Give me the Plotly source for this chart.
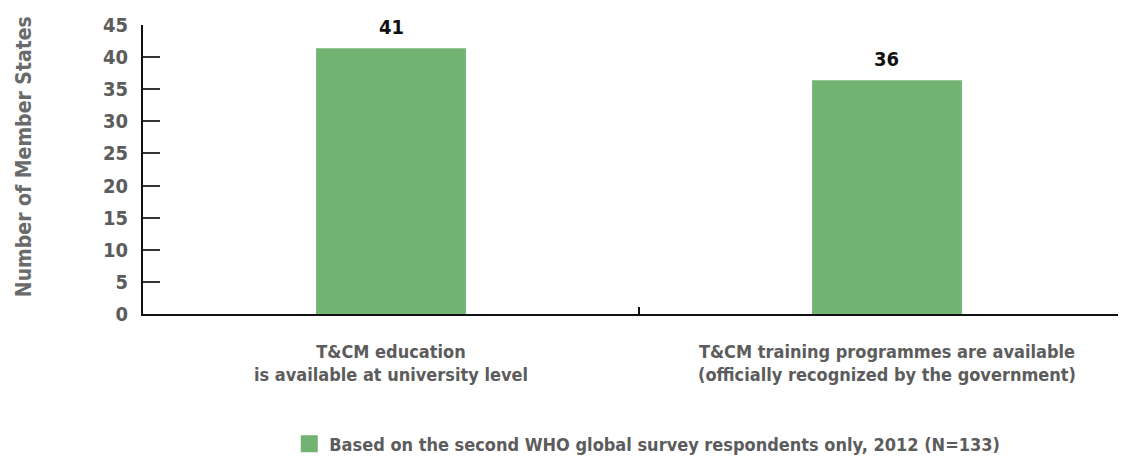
import plotly.graph_objects as go

categories = ["T&CM education<br>is available at university level",
              "T&CM training programmes are available<br>(officially recognized by the government)"]
values = [41, 36]
series_name = "Based on the second WHO global survey respondents only, 2012 (N=133)"
y_ticks = [0, 5, 10, 15, 20, 25, 30, 35, 40, 45]
y_title = "Number of Member States"

FONT = "DejaVu Sans Condensed, Roboto, sans-serif"
GRAY = "#5c5c5c"
GREEN = "#72b272"

fig = go.Figure()
fig.add_trace(go.Bar(
    x=categories, y=values, name=series_name,
    marker=dict(color=GREEN, line=dict(width=5, color=GREEN)),
    width=0.292,
))

for c, v in zip(categories, values):
    fig.add_annotation(x=c, y=v, text=str(v), showarrow=False, yshift=24,
                       font=dict(family=FONT, size=20, color="#111111", weight="bold"))

fig.add_annotation(xref="paper", yref="paper", x=-0.12, y=0.543, text=y_title,
                   textangle=-90, showarrow=False, xanchor="center", yanchor="middle",
                   font=dict(family=FONT, size=21, color="#6a6a6a", weight="bold"))

fig.update_layout(
    width=1126, height=448,
    margin=dict(l=135, r=0, t=17, b=142, autoexpand=False),
    plot_bgcolor="white", paper_bgcolor="white",
    font=dict(family=FONT, color=GRAY, size=19),
    showlegend=True,
    legend=dict(orientation="h", x=0.1476, xanchor="left", y=-0.45, yanchor="middle",
                font=dict(family=FONT, size=18, color=GRAY, weight="bold")),
    xaxis=dict(
        type="category", range=[-0.5, 1.498], automargin=False,
        showline=True, linecolor="#111111", linewidth=2,
        ticks="inside", ticklen=7, tickcolor="#111111", tickwidth=1.5,
        tickson="boundaries", ticklabelstandoff=20,
        tickfont=dict(family=FONT, size=18, color=GRAY, weight="bold"),
        showgrid=False, zeroline=False,
    ),
    yaxis=dict(
        range=[0, 45], tickvals=y_ticks, automargin=False,
        showline=True, linecolor="#111111", linewidth=2,
        ticks="inside", ticklen=17, tickcolor="#333333", tickwidth=1.5,
        ticklabelstandoff=9,
        tickfont=dict(family=FONT, size=20, color=GRAY, weight="bold"),
        showgrid=False, zeroline=False,
    ),
)

fig.write_html("out.html")
